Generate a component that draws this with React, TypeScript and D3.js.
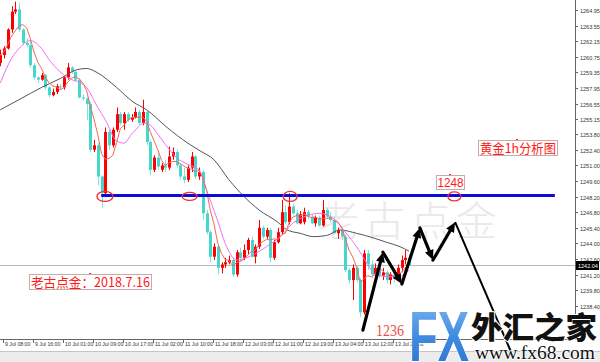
import React from 'react';
import * as d3 from 'd3';

const opens = [1260.2,1260.9,1261.5,1263.2,1264.8,1265.0,1263.2,1262.0,1261.8,1260.0,1258.9,1258.7,1259.1,1258.0,1257.3,1257.6,1258.1,1258.0,1258.9,1259.8,1259.4,1258.7,1257.1,1257.0,1256.5,1252.4,1252.8,1250.0,1248.5,1254.0,1252.8,1254.2,1255.6,1254.8,1255.6,1255.1,1255.3,1255.8,1254.8,1255.8,1253.1,1250.6,1251.7,1250.6,1251.0,1250.8,1251.8,1252.2,1251.0,1250.0,1249.7,1250.8,1251.8,1250.0,1250.4,1246.7,1245.0,1242.8,1243.7,1241.8,1242.1,1242.3,1242.5,1241.2,1243.2,1242.7,1243.4,1244.3,1242.8,1243.7,1245.4,1244.6,1245.2,1242.7,1244.1,1245.0,1246.8,1245.9,1247.3,1246.7,1245.8,1245.9,1246.8,1246.4,1245.8,1246.3,1245.6,1247.0,1246.4,1246.1,1244.9,1245.2,1244.6,1241.6,1240.7,1241.8,1240.7,1237.8,1243.1,1242.1,1241.2,1241.8,1241.1,1241.4,1240.7,1241.2,1240.8,1241.8,1242.5,1242.7];
const highs = [1261.4,1261.7,1263.3,1265.3,1265.7,1265.6,1263.3,1262.4,1262.3,1260.2,1259.0,1259.3,1259.2,1258.1,1257.9,1258.3,1258.3,1259.0,1260.2,1259.9,1259.5,1258.8,1257.4,1257.1,1256.7,1253.3,1253.0,1250.1,1254.4,1254.2,1254.4,1256.2,1255.8,1255.8,1255.8,1255.6,1256.2,1256.0,1256.9,1255.9,1253.3,1251.9,1252.1,1251.2,1251.5,1252.7,1252.6,1252.4,1251.2,1250.8,1251.0,1252.2,1251.9,1250.8,1250.6,1247.0,1245.2,1244.0,1243.9,1242.3,1242.7,1242.9,1242.7,1243.4,1243.6,1243.9,1244.5,1244.6,1243.9,1246.1,1245.6,1245.4,1245.4,1244.3,1245.4,1247.9,1247.4,1248.5,1247.5,1247.0,1246.9,1247.2,1247.0,1246.6,1246.5,1246.5,1247.9,1247.2,1246.8,1246.4,1245.4,1245.4,1244.8,1241.8,1242.1,1242.0,1240.9,1243.4,1243.4,1242.5,1242.2,1242.1,1241.8,1241.6,1241.4,1241.6,1242.1,1242.9,1243.4,1243.0];
const lows = [1259.9,1260.6,1261.4,1262.9,1264.6,1263.0,1261.8,1261.6,1259.8,1258.7,1258.4,1258.6,1257.8,1257.1,1257.2,1257.4,1257.8,1257.8,1258.7,1259.2,1258.5,1257.0,1256.8,1255.1,1252.2,1252.2,1249.2,1247.2,1248.3,1252.4,1252.6,1254.0,1254.6,1254.2,1254.9,1254.9,1255.2,1254.6,1254.6,1252.8,1250.1,1250.4,1250.6,1250.4,1250.4,1250.6,1251.5,1250.8,1249.7,1249.4,1249.5,1250.4,1249.8,1249.7,1246.1,1244.8,1242.3,1242.5,1241.2,1241.3,1241.8,1242.1,1241.0,1241.0,1242.3,1242.5,1243.0,1242.7,1242.2,1243.5,1244.4,1244.4,1242.3,1242.5,1244.0,1244.8,1245.7,1245.7,1246.5,1245.7,1245.7,1245.7,1246.2,1245.7,1245.5,1245.5,1245.5,1246.2,1245.9,1244.8,1244.4,1244.3,1241.4,1240.4,1238.9,1240.5,1237.4,1237.6,1241.6,1240.9,1240.9,1240.9,1240.7,1240.4,1240.3,1240.5,1240.6,1241.4,1242.1,1242.0];
const closes = [1260.9,1261.5,1263.2,1264.8,1265.0,1263.2,1262.0,1261.8,1260.0,1258.9,1258.7,1259.1,1258.0,1257.3,1257.6,1258.1,1258.0,1258.9,1259.8,1259.4,1258.7,1257.1,1257.0,1256.5,1252.4,1252.8,1250.0,1248.5,1254.0,1252.8,1254.2,1255.6,1254.8,1255.6,1255.1,1255.3,1255.8,1254.8,1255.8,1253.1,1250.6,1251.7,1250.9,1251.0,1250.8,1251.8,1252.2,1251.0,1250.0,1249.7,1250.8,1251.8,1250.0,1250.4,1246.7,1245.0,1242.8,1243.7,1241.8,1242.1,1242.3,1242.5,1241.2,1243.2,1242.7,1243.4,1244.3,1242.8,1243.7,1245.4,1244.6,1245.2,1242.7,1244.1,1245.0,1246.8,1245.9,1247.3,1246.7,1245.8,1246.6,1246.8,1246.4,1245.8,1246.3,1245.6,1247.0,1246.4,1246.1,1244.9,1245.2,1244.6,1241.6,1240.7,1241.8,1240.7,1237.8,1243.1,1242.1,1241.2,1241.8,1241.1,1241.4,1240.7,1241.2,1240.8,1241.8,1242.5,1242.7,1242.0];

const pinkBars = [0,3,5,8,11,13,16,19,21,23,26,28,31,33,35,37,38,40,42,44,47,50,53,55,58,60,63,67,71,75,78,82,85,89,92,95,98,100,104,107,109];
const pinkVals = [1258.4,1260.6,1261.5,1262.2,1261.5,1260.5,1259.4,1258.7,1258.5,1258.0,1256.2,1255.1,1253.2,1253.0,1253.8,1254.5,1254.8,1254.6,1253.8,1252.9,1251.7,1251.1,1250.6,1248.8,1246.0,1244.0,1242.5,1242.9,1243.7,1244.7,1245.8,1246.5,1246.7,1246.2,1245.0,1243.7,1242.1,1241.2,1241.0,1241.1,1241.6];

const grayBars = [0,5,11,16,20.5,23,26,31,35.4,39,44.5,50,53.3,57,61,65,69,74,76.5,80,83.5,87,90.6,95,99.4,103,106.6,109];
const grayVals = [1256.0,1256.9,1258.0,1258.8,1259.6,1259.7,1259.3,1258.0,1256.7,1256.0,1254.4,1253.0,1252.3,1251.5,1249.7,1248.2,1247.0,1245.9,1245.2,1244.9,1244.6,1244.7,1245.2,1244.9,1244.5,1244.1,1243.7,1243.3];

const priceTicks = ["1264.95","1263.55","1262.15","1260.75","1259.35","1257.95","1256.55","1255.15","1253.80","1252.40","1251.00","1249.60","1248.20","1246.80","1245.40","1244.00","1242.60","1241.20","1239.80","1238.40"];
const timeLabels = ["9 Jul 08:00","9 Jul 16:00","10 Jul 01:00","10 Jul 09:00","10 Jul 17:00","11 Jul 02:00","11 Jul 10:00","11 Jul 18:00","12 Jul 03:00","12 Jul 11:00","12 Jul 19:00","13 Jul 04:00","13 Jul 12:00","13 Jul 20:00"];
const timeLabelBars = [1,9,17,25,33,41,49,57,65,73,81,89,97,105];

const currentPrice = 1242.04;
const supportLevel = 1248.3;
const supportFromBar = 26.9;
const supportToBar = 147.9;
const circleBars = [27.9, 50.5, 77.3, 121.1];
const circleRx = [8, 7.5, 7, 6.5];
const circleRy = [5, 4, 5, 4.5];
const arrowPts: [number, number][] = [[96.7,1236.2],[102.05,1243.2],[107.1,1240.35],[111.9,1245.38],[115.4,1242.5],[121.3,1245.9]];
const arrowTail: [number, number] = [137.3, 1233.4];

const W = 600, H = 362;
const plotRight = 575, plotBottom = 339;

const x = d3.scaleLinear().domain([0, 109]).range([0.3, 409]);
const y = d3.scaleLinear().domain([1235.41, 1265.85]).range([plotBottom, 0]);

const UP = '#ff0000';
const DOWN = '#45d6cc';

function head(x1: number, y1: number, x2: number, y2: number, L = 10, w = 4.5) {
  const dx = x2 - x1, dy = y2 - y1;
  const len = Math.hypot(dx, dy);
  const ux = dx / len, uy = dy / len;
  const bx = x2 - ux * L, by = y2 - uy * L;
  const nx = -uy, ny = ux;
  return {
    base: [bx, by],
    pts: `${x2},${y2} ${bx + nx * w},${by + ny * w} ${bx - nx * w},${by - ny * w}`,
  };
}

export default function App() {
  const redMA = closes.map((_, i) => d3.mean(closes.slice(Math.max(0, i - 4), i + 1)) as number);
  const lineRed = d3.line<number>().x((_, i) => x(i)).y((d) => y(d))(redMA) || '';
  const linePink = d3.line<number>().x((_, i) => x(pinkBars[i])).y((d) => y(d)).curve(d3.curveMonotoneX)(pinkVals) || '';
  const lineGray = d3.line<number>().x((_, i) => x(grayBars[i])).y((d) => y(d)).curve(d3.curveMonotoneX)(grayVals) || '';

  const arrowPx = arrowPts.map(([b, p]) => [x(b), y(p)]);
  const segs: any[] = [];
  for (let i = 0; i < arrowPx.length - 1; i++) {
    const [x1, y1] = arrowPx[i];
    const [x2, y2] = arrowPx[i + 1];
    const h = head(x1, y1, x2, y2);
    segs.push(
      <g key={'a' + i}>
        <line x1={x1} y1={y1} x2={h.base[0]} y2={h.base[1]} stroke="#000" strokeWidth={3.2} strokeLinecap="round" />
        <polygon points={h.pts} fill="#000" />
      </g>
    );
  }
  const last = arrowPx[arrowPx.length - 1];

  const cpY = y(currentPrice);

  return (
    <svg width={W} height={H} style={{ position: 'absolute', left: 0, top: 0, background: '#fff' }} fontFamily="Liberation Sans, Arial, sans-serif">
      <defs>
        <clipPath id="plot"><rect x={0} y={0} width={plotRight} height={plotBottom} /></clipPath>
        <linearGradient id="fxg" x1="0" y1="0" x2="0" y2="1">
          <stop offset="0" stopColor="#7fb8f2" />
          <stop offset="0.5" stopColor="#3f8be0" />
          <stop offset="1" stopColor="#2a6fc9" />
        </linearGradient>
      </defs>
      <rect x={0} y={0} width={W} height={H} fill="#fff" />

      {/* watermark */}
      <text x={318} y={236} fontSize={41} fill="#e9e9e9" fontFamily="Noto Sans CJK SC" fontWeight={300} letterSpacing={5}>老古点金</text>

      {/* current price line */}
      <line x1={0} x2={plotRight} y1={Math.round(cpY) + 0.5} y2={Math.round(cpY) + 0.5} stroke="#b4bcc4" strokeWidth={1} />

      <g clipPath="url(#plot)">
        {closes.map((c, i) => {
          const o = opens[i];
          const up = c >= o;
          const cx = Math.round(x(i));
          const yt = y(Math.max(o, c));
          const yb = y(Math.min(o, c));
          const col = up ? UP : DOWN;
          return (
            <g key={i}>
              <line x1={cx + 0.5} x2={cx + 0.5} y1={y(highs[i])} y2={y(lows[i])} stroke={up ? UP : '#7fe3dc'} strokeWidth={1} />
              <rect x={cx - 1} y={yt} width={3} height={Math.max(1, yb - yt)} fill={col} />
            </g>
          );
        })}
        <path d={lineGray} fill="none" stroke="#555" strokeWidth={1} />
        <path d={linePink} fill="none" stroke="#f070f0" strokeWidth={1} />
        <path d={lineRed} fill="none" stroke="#f06a5a" strokeWidth={1} />
      </g>

      {/* support line */}
      <line x1={x(supportFromBar)} x2={x(supportToBar)} y1={y(supportLevel)} y2={y(supportLevel)} stroke="#0c0cd8" strokeWidth={3} />
      {circleBars.map((b, i) => (
        <ellipse key={'c' + i} cx={x(b)} cy={y(supportLevel) + 1} rx={circleRx[i]} ry={circleRy[i]} fill="none" stroke="#f03030" strokeWidth={1.3} />
      ))}

      {/* annotation boxes */}
      <rect x={436.5} y={175.5} width={28} height={14} fill="#fff" stroke="#c9aaa6" />
      <text x={450.5} y={187} textAnchor="middle" fontSize={13} fill="#ff1a1a" textLength={26} lengthAdjust="spacingAndGlyphs">1248</text>
      <line x1={449} x2={451} y1={174.5} y2={174.5} stroke="#f03030" />

      <rect x={478.5} y={140.5} width={79} height={15} fill="#fff" stroke="#c9aaa6" />
      <text x={480} y={153} fontSize={13} fill="#ff1a1a" fontFamily="Noto Sans CJK SC" textLength={76} lengthAdjust="spacingAndGlyphs">黄金1h分析图</text>
      <line x1={516} x2={518} y1={139.5} y2={139.5} stroke="#f03030" />

      <rect x={29.5} y={274.5} width={122} height={15} fill="#fff" stroke="#c9aaa6" />
      <text x={31} y={287} fontSize={13} fill="#ff1a1a" fontFamily="Noto Sans CJK SC" textLength={119} lengthAdjust="spacingAndGlyphs">老古点金：2018.7.16</text>
      <line x1={89} x2={91} y1={273.5} y2={273.5} stroke="#f03030" />

      {/* arrows */}
      {segs}
      <line x1={last[0]} y1={last[1]} x2={x(arrowTail[0])} y2={y(arrowTail[1])} stroke="#000" strokeWidth={2} />
      <text x={376} y={336} fontSize={16} fill="#e8524a" fontFamily="Liberation Serif, serif" textLength={28} lengthAdjust="spacingAndGlyphs">1236</text>

      {/* right axis */}
      <line x1={plotRight + 0.5} x2={plotRight + 0.5} y1={0} y2={plotBottom} stroke="#666" />
      {priceTicks.map((t) => {
        const yy = Math.round(y(+t)) + 0.5;
        return (
          <g key={t}>
            <line x1={plotRight} x2={plotRight + 3} y1={yy} y2={yy} stroke="#666" />
            <text x={plotRight + 5} y={yy + 2} fontSize={5.5} fill="#333">{t}</text>
          </g>
        );
      })}
      <rect x={576} y={Math.round(cpY) - 4} width={23} height={9} fill="#000" />
      <text x={578} y={Math.round(cpY) + 2.5} fontSize={5.5} fill="#fff">{currentPrice.toFixed(2)}</text>

      {/* bottom axis */}
      <line x1={0} x2={plotRight + 1} y1={plotBottom + 0.5} y2={plotBottom + 0.5} stroke="#666" />
      {timeLabels.map((t, i) => {
        const xx = Math.round(x(timeLabelBars[i]) - 0.7) + 0.5;
        return (
          <g key={t}>
            <line x1={xx} x2={xx} y1={plotBottom} y2={plotBottom + 4} stroke="#666" />
            <text x={xx + 1.5} y={plotBottom + 6.5} fontSize={5.2} fill="#333">{t}</text>
          </g>
        );
      })}
      <rect x={0} y={352} width={W} height={10} fill="#ececec" />
      <line x1={0} x2={W} y1={351.5} y2={351.5} stroke="#c4c4c4" />

      {/* FX logo */}
      <text x={409} y={361} fontSize={70} fontWeight={700} fill="url(#fxg)" stroke="#fff" strokeWidth={1.5} paintOrder="stroke" textLength={60} lengthAdjust="spacingAndGlyphs">FX</text>
      <text x={471} y={338} fontSize={30} fontWeight={900} fill="#111" stroke="#fff" strokeWidth={2} paintOrder="stroke" fontFamily="Noto Sans CJK SC" textLength={126} lengthAdjust="spacingAndGlyphs">外汇之家</text>
      <text x={475} y={359} fontSize={18} fill="#111" stroke="#fff" strokeWidth={1.5} paintOrder="stroke" fontFamily="Liberation Serif, serif" textLength={120} lengthAdjust="spacingAndGlyphs">www.fx68.com</text>
    </svg>
  );
}
